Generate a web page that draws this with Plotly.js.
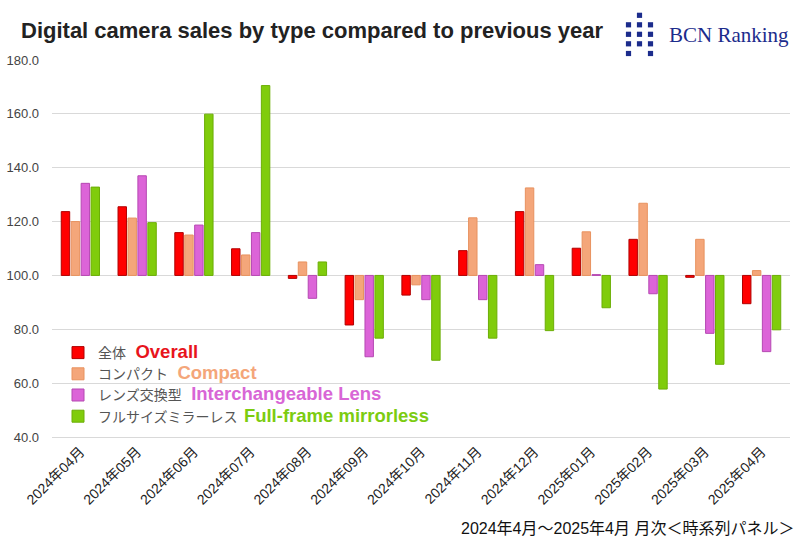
<!DOCTYPE html>
<html>
<head>
<meta charset="utf-8">
<script src="https://cdn.plot.ly/plotly-3.0.1.min.js"></script>
<style>
	html, body { margin: 0; padding: 0; background: #fff; }
	#plot { width: 800px; height: 547px; }
</style>
</head>
<body>
<div id="plot"></div>
<script>
const months = [
	"2024年04月", "2024年05月", "2024年06月", "2024年07月", "2024年08月",
	"2024年09月", "2024年10月", "2024年11月", "2024年12月", "2025年01月",
	"2025年02月", "2025年03月", "2025年04月",
];

// year-on-year index, previous year = 100
const overall = [123.7, 125.5, 115.9, 109.9, 98.9, 81.6, 92.7, 109.2, 123.7, 110.1, 113.4, 99.3, 89.5];
const compact = [120.0, 121.3, 115.0, 107.6, 105.0, 91.0, 96.5, 121.4, 132.5, 116.2, 126.8, 113.4, 101.8];
const interchangeable = [134.2, 137.0, 118.7, 115.9, 91.5, 69.8, 91.0, 91.0, 104.0, 100.3, 93.2, 78.5, 71.7];
const fullFrame = [132.8, 119.6, 159.9, 170.5, 105.0, 76.7, 68.5, 76.7, 79.5, 88.0, 57.8, 67.0, 79.8];

const seriesJa = ["全体", "コンパクト", "レンズ交換型", "フルサイズミラーレス"];
const seriesEn = ["Overall", "Compact", "Interchangeable Lens", "Full-frame mirrorless"];

const yTicks = [40, 60, 80, 100, 120, 140, 160, 180];
const BASE = 100;

const fills = ["#ff0000", "#f4a67a", "#dc64d8", "#80cc0c"];
const edges = ["#b00000", "#e8925f", "#b548b2", "#6cae06"];
const enColors = ["#e8141c", "#f4a67a", "#d866d6", "#7ccc10"];
const enGaps = ["&nbsp;&nbsp;&nbsp;", "&nbsp;&nbsp;&nbsp;", "&nbsp;&nbsp;&nbsp;", "&nbsp;&nbsp;"];

const W = 800, H = 547;
const M = { l: 52, r: 10, t: 60, b: 110 };
const px = x => (x - M.l) / (W - M.l - M.r);
const py = y => (H - M.b - y) / (H - M.t - M.b);

const data = [overall, compact, interchangeable, fullFrame].map((vals, i) => ({
	type: "bar",
	x: months,
	y: vals.map(v => v - BASE),
	base: BASE,
	name: `<span style="color:#555">${seriesJa[i]}</span>${enGaps[i]}` +
		`<span style="color:${enColors[i]};font-size:18.5px;font-family:'Liberation Sans',Arial,sans-serif"><b>${seriesEn[i]}</b></span>`,
	marker: { color: fills[i], line: { color: edges[i], width: 1 } },
	hoverinfo: "skip",
}));

// BCN logo: little grid of squares
const logoCols = [628.5, 639.5, 650.5];
const logoRows = [15.3, 24.8, 34.3, 43.8, 53.5];
const shapes = [];
logoRows.forEach((cy, r) => {
	logoCols.forEach((cx, c) => {
		if (r === 0 && c !== 1) return;
		if (r === logoRows.length - 1 && c === 1) return;
		shapes.push({
			type: "rect", xref: "paper", yref: "paper",
			x0: px(cx - 2.6), x1: px(cx + 2.6), y0: py(cy + 2.6), y1: py(cy - 2.6),
			fillcolor: "#1c2c8c", line: { width: 0 },
		});
	});
});

const layout = {
	width: W,
	height: H,
	margin: M,
	paper_bgcolor: "#fff",
	plot_bgcolor: "#fff",
	font: { family: "Liberation Sans, Arial, Noto Sans CJK JP, sans-serif", color: "#333" },
	title: {
		text: "<b>Digital camera sales by type compared to previous year</b>",
		font: { family: "Liberation Sans, Arial, sans-serif", size: 22, color: "#222" },
		xref: "container", yref: "container",
		x: 21 / W, xanchor: "left",
		y: 1 - 30 / H, yanchor: "middle",
	},
	barmode: "group",
	bargap: 0.3,
	bargroupgap: 0.15,
	showlegend: true,
	legend: {
		x: px(58), xanchor: "left",
		y: py(337), yanchor: "top",
		bgcolor: "rgba(0,0,0,0)",
		font: { size: 14, color: "#555", family: "Noto Sans CJK JP, Liberation Sans, sans-serif" },
		tracegroupgap: 0,
		itemwidth: 30,
	},
	xaxis: {
		type: "category",
		showgrid: false,
		showline: true,
		linecolor: "#d9d9d9",
		linewidth: 1,
		ticks: "",
		tickangle: -45,
		tickfont: { size: 14, color: "#222", family: "Liberation Sans, Arial, Noto Sans CJK JP, sans-serif" },
	},
	yaxis: {
		range: [40, 180],
		tickvals: yTicks,
		tickformat: ".1f",
		showgrid: true,
		gridcolor: "#d9d9d9",
		gridwidth: 1,
		zeroline: false,
		showline: false,
		ticks: "",
		ticklabelstandoff: 12,
		tickfont: { size: 13, color: "#444", family: "Liberation Sans, Arial, sans-serif" },
	},
	shapes,
	annotations: [
		{
			text: "BCN Ranking",
			xref: "paper", yref: "paper",
			x: px(667), y: py(35), xanchor: "left", yanchor: "middle",
			showarrow: false,
			font: { family: "Liberation Serif, DejaVu Serif, serif", size: 21, color: "#1c2c8c" },
		},
		{
			text: "2024年4月～2025年4月 月次＜時系列パネル＞",
			xref: "paper", yref: "paper",
			x: px(796), y: py(528), xanchor: "right", yanchor: "middle",
			showarrow: false,
			font: { family: "Liberation Sans, Arial, Noto Sans CJK JP, sans-serif", size: 16, color: "#111" },
		},
	],
};

Plotly.newPlot("plot", data, layout, { displayModeBar: false, staticPlot: true });
</script>
</body>
</html>
